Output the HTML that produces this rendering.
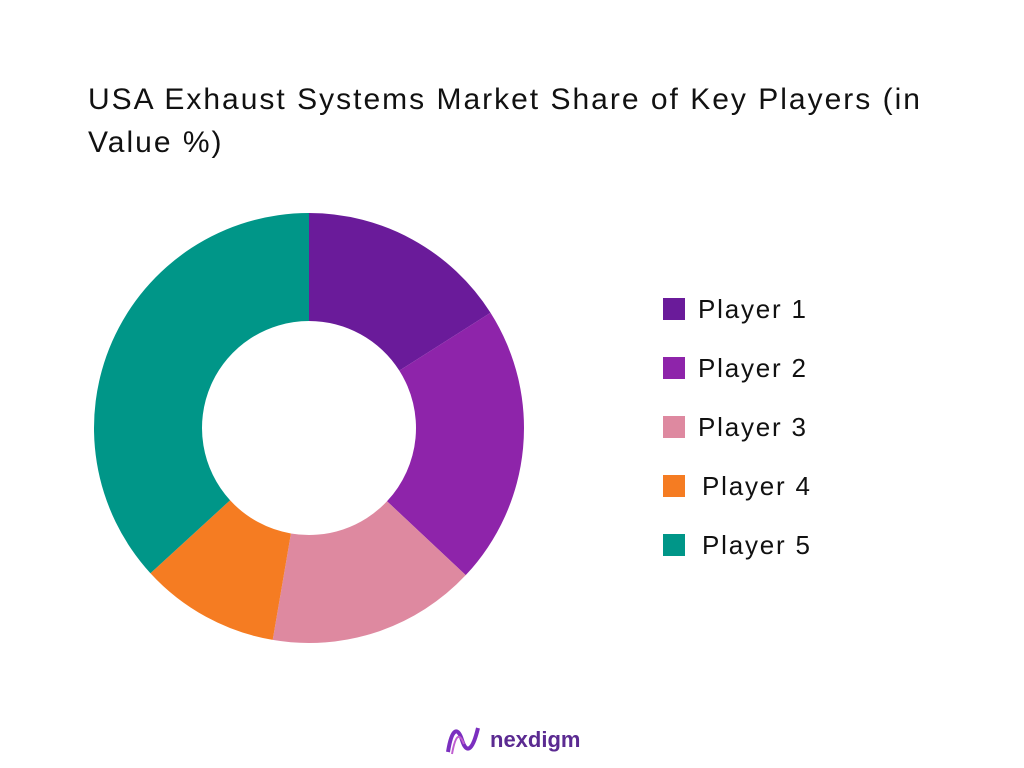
<!DOCTYPE html>
<html><head><meta charset="utf-8"><style>
body{margin:0;width:1024px;height:768px;background:#fff;font-family:"Liberation Sans",sans-serif;overflow:hidden;position:relative}
.title{position:absolute;left:88px;top:78px;width:890px;font-size:30px;letter-spacing:2px;line-height:43px;color:#111}
</style></head><body>
<div class="title">USA Exhaust Systems Market Share of Key Players (in Value %)</div>
<svg id="chart" width="1024" height="768" style="position:absolute;left:0;top:0"></svg>
<div style="position:absolute;left:444px;top:722px;display:flex;align-items:center">
<svg width="40" height="36" viewBox="0 0 40 36"><path d="M4 30 C8 5,14 5,18 18 C22 31,28 31,34 6" stroke="#7b2fbf" stroke-width="4" fill="none"/><path d="M8 32 C12 10,16 12,20 22" stroke="#c05fd0" stroke-width="2" fill="none"/></svg>
<span style="font-size:22px;font-weight:bold;color:#5b2a91;margin-left:6px">nexdigm</span></div>
<script>
const categories=["Player 1","Player 2","Player 3","Player 4","Player 5"];
const values=[16,21,15.7,10.5,36.8];
const colors=["#6a1b9a","#8e24aa","#de89a0","#f57c22","#009688"];
const svg=document.getElementById('chart');const NS="http://www.w3.org/2000/svg";
const cx=309,cy=428,R=215,r=107;
const total=values.reduce((a,b)=>a+b,0);
function pt(a,rad){return [cx+rad*Math.sin(a),cy-rad*Math.cos(a)];}
let a0=0;
values.forEach((v,i)=>{
 const a1=a0+v/total*2*Math.PI;const lg=(a1-a0)>Math.PI?1:0;
 const [x1,y1]=pt(a0,R),[x2,y2]=pt(a1,R),[x3,y3]=pt(a1,r),[x4,y4]=pt(a0,r);
 const p=document.createElementNS(NS,'path');
 p.setAttribute('d',`M${x1},${y1}A${R},${R} 0 ${lg} 1 ${x2},${y2}L${x3},${y3}A${r},${r} 0 ${lg} 0 ${x4},${y4}Z`);
 p.setAttribute('fill',colors[i]);
 
 
 svg.appendChild(p);a0=a1;
 const y=309+i*59;
 const rc=document.createElementNS(NS,'rect');
 rc.setAttribute('x',663);rc.setAttribute('y',y-11);rc.setAttribute('width',22);rc.setAttribute('height',22);rc.setAttribute('fill',colors[i]);
 
 
 svg.appendChild(rc);
 const t=document.createElementNS(NS,'text');
 t.setAttribute('x',i>=3?702:698);t.setAttribute('y',y+9);t.setAttribute('font-size','26');t.setAttribute('fill','#111');
 t.setAttribute('letter-spacing','1.8');
 t.setAttribute('font-family','Liberation Sans, sans-serif');
 t.textContent=categories[i];
 
 
 svg.appendChild(t);
});
</script>
</body></html>
